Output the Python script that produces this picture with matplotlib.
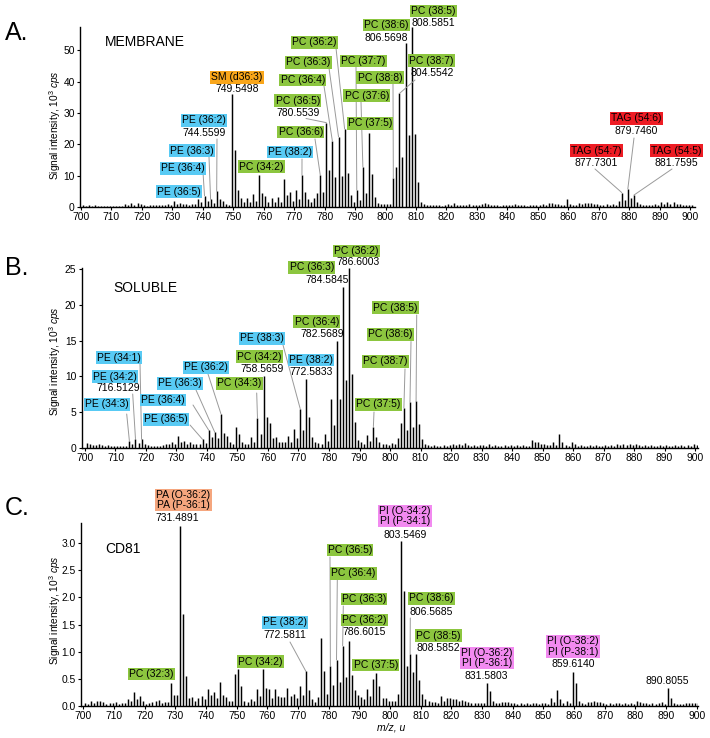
import numpy as np
import matplotlib
matplotlib.use('Agg')
import matplotlib.pyplot as plt

plt.rcParams['font.family'] = ['Liberation Sans', 'DejaVu Sans']
plt.rcParams['mathtext.fontset'] = 'custom'
plt.rcParams['mathtext.rm'] = 'Liberation Sans'
plt.rcParams['mathtext.it'] = 'Liberation Sans:italic'

W, H = 710, 738

# ---------------- data ----------------
nominal_mz = np.arange(700, 901)      # nominal masses 700..900
mass_defect = 0.55

int_membrane = [
    0.6, 0.4, 0.5, 0.4, 0.5, 0.4, 0.3, 0.4, 0.3, 0.4,
    0.3, 0.3, 0.4, 0.3, 1.0, 0.6, 1.2, 0.7, 1.2, 0.8,
    0.5, 0.4, 0.6, 0.5, 0.5, 0.6, 0.7, 0.5, 1.0, 0.7,
    2.0, 0.9, 1.2, 0.8, 1.1, 0.7, 1.1, 0.8, 2.4, 1.6,
    3.6, 1.8, 2.4, 1.4, 5.0, 2.4, 1.8, 1.0, 0.7, 36.0,
    18.3, 5.4, 3.0, 1.5, 2.8, 1.5, 4.2, 2.0, 10.3, 4.5,
    3.6, 1.6, 3.0, 1.5, 3.2, 1.5, 8.8, 3.8, 4.8, 2.0,
    5.5, 2.4, 10.2, 4.8, 2.5, 1.6, 3.0, 4.5, 10.2, 4.8,
    26.9, 11.8, 20.9, 9.6, 22.4, 9.9, 24.9, 10.9, 3.7, 1.7,
    5.4, 2.1, 12.8, 4.6, 23.6, 10.4, 3.2, 1.2, 0.8, 1.0,
    0.8, 1.0, 9.1, 12.6, 36.2, 16.0, 52.3, 22.9, 57.3, 23.2,
    8.1, 1.5, 0.8, 0.6, 0.5, 0.7, 0.5, 0.6, 0.4, 0.7,
    1.0, 0.6, 1.2, 0.7, 0.5, 0.6, 0.5, 1.0, 0.6, 0.5,
    0.7, 0.8, 1.3, 0.8, 0.6, 0.5, 0.6, 0.4, 0.5, 0.6,
    0.5, 0.6, 0.9, 0.5, 0.6, 0.5, 0.4, 0.6, 0.5, 0.6,
    0.7, 1.1, 0.6, 1.4, 1.2, 0.8, 0.9, 0.6, 0.7, 2.5,
    0.8, 0.6, 0.7, 1.2, 0.8, 1.4, 1.4, 1.3, 0.9, 1.0,
    0.7, 0.6, 0.8, 0.6, 1.0, 0.7, 1.9, 4.6, 2.2, 5.8,
    2.8, 3.8, 1.5, 0.9, 0.6, 0.7, 0.5, 0.6, 0.9, 0.6,
    1.5, 1.0, 1.6, 1.0, 1.5, 1.0, 0.8, 0.6, 0.7, 0.7,
    0.6,
]

int_soluble = [
    0.7, 0.5, 0.4, 0.4, 0.5, 0.4, 0.3, 0.4, 0.3, 0.3,
    0.3, 0.3, 0.3, 0.3, 1.0, 0.5, 1.3, 0.7, 1.2, 0.6,
    0.4, 0.3, 0.3, 0.3, 0.3, 0.4, 0.5, 0.6, 0.8, 0.6,
    1.7, 0.8, 1.0, 0.6, 0.8, 0.5, 0.6, 0.5, 1.2, 0.7,
    2.5, 1.6, 2.2, 1.4, 4.8, 2.1, 1.7, 0.8, 0.5, 2.9,
    2.0, 0.8, 0.5, 0.6, 1.5, 0.8, 4.2, 1.9, 10.0, 4.3,
    3.5, 1.4, 1.6, 0.8, 0.8, 0.8, 1.7, 0.9, 2.7, 1.4,
    5.5, 2.5, 9.7, 4.3, 1.6, 0.8, 0.7, 0.6, 2.0, 1.0,
    6.8, 3.2, 14.9, 6.8, 22.5, 9.5, 25.1, 10.4, 3.7, 1.1,
    0.9, 0.5, 1.8, 1.0, 3.0, 1.6, 0.9, 0.5, 0.6, 0.4,
    0.7, 0.5, 1.4, 3.5, 5.6, 2.5, 6.4, 3.0, 6.5, 3.3,
    1.2, 0.6, 0.4, 0.3, 0.4, 0.3, 0.3, 0.4, 0.3, 0.4,
    0.6, 0.4, 0.6, 0.4, 0.7, 0.4, 0.3, 0.4, 0.3, 0.4,
    0.4, 0.3, 0.5, 0.3, 0.4, 0.3, 0.3, 0.4, 0.3, 0.4,
    0.3, 0.4, 0.3, 0.4, 0.3, 0.3, 1.1, 0.9, 0.8, 0.6,
    0.5, 0.4, 0.4, 0.8, 0.4, 1.9, 0.9, 0.4, 0.3, 0.9,
    0.5, 0.3, 0.4, 0.3, 0.3, 0.4, 0.3, 0.4, 0.3, 0.3,
    0.4, 0.3, 0.4, 0.3, 0.5, 0.4, 0.6, 0.4, 0.5, 0.4,
    0.5, 0.4, 0.3, 0.4, 0.3, 0.4, 0.3, 0.3, 0.4, 0.3,
    0.4, 0.3, 0.3, 0.4, 0.3, 0.4, 0.3, 0.4, 0.3, 0.5,
    0.4,
]

int_cd81 = [
    0.06, 0.04, 0.10, 0.06, 0.10, 0.10, 0.07, 0.04, 0.06, 0.05,
    0.07, 0.03, 0.06, 0.06, 0.13, 0.09, 0.25, 0.12, 0.19, 0.10,
    0.04, 0.06, 0.08, 0.10, 0.11, 0.06, 0.08, 0.07, 0.42, 0.20,
    0.20, 3.32, 1.70, 0.55, 0.15, 0.16, 0.10, 0.14, 0.18, 0.12,
    0.32, 0.20, 0.26, 0.15, 0.44, 0.20, 0.17, 0.10, 0.10, 0.59,
    0.68, 0.36, 0.10, 0.08, 0.13, 0.10, 0.32, 0.18, 0.69, 0.33,
    0.32, 0.15, 0.32, 0.18, 0.17, 0.17, 0.33, 0.18, 0.22, 0.15,
    0.37, 0.20, 0.64, 0.30, 0.12, 0.08, 0.17, 1.25, 0.65, 0.22,
    0.74, 0.39, 0.85, 0.45, 1.11, 0.53, 1.20, 0.57, 0.30, 0.20,
    0.17, 0.12, 0.31, 0.18, 0.50, 0.60, 0.36, 0.15, 0.14, 0.10,
    0.10, 0.10, 0.22, 3.04, 2.12, 0.74, 0.96, 0.62, 0.95, 0.47,
    0.22, 0.12, 0.10, 0.08, 0.07, 0.06, 0.18, 0.10, 0.14, 0.14,
    0.13, 0.12, 0.10, 0.11, 0.09, 0.07, 0.06, 0.05, 0.05, 0.06,
    0.05, 0.42, 0.28, 0.10, 0.05, 0.06, 0.07, 0.08, 0.08, 0.06,
    0.05, 0.04, 0.05, 0.04, 0.05, 0.04, 0.05, 0.05, 0.04, 0.05,
    0.05, 0.04, 0.15, 0.08, 0.29, 0.12, 0.06, 0.10, 0.06, 0.63,
    0.42, 0.10, 0.05, 0.04, 0.07, 0.08, 0.10, 0.07, 0.08, 0.05,
    0.04, 0.05, 0.04, 0.05, 0.05, 0.04, 0.05, 0.04, 0.05, 0.04,
    0.10, 0.08, 0.06, 0.05, 0.04, 0.05, 0.04, 0.05, 0.07, 0.04,
    0.33, 0.15, 0.05, 0.04, 0.03, 0.04, 0.05, 0.06, 0.05, 0.06,
    0.05,
]

panel_titles = ['MEMBRANE', 'SOLUBLE', 'CD81']
panel_letters = ['A.', 'B.', 'C.']
x_ticks = list(range(700, 901, 10))
y_ticks_a = [0, 10, 20, 30, 40, 50]
y_ticks_b = [0, 5, 10, 15, 20, 25]
y_ticks_c = [0, 0.5, 1.0, 1.5, 2.0, 2.5, 3.0]

CLASS_COLORS = {'PE': '#58CAF4', 'PC': '#8CC63F', 'SM': '#F9A61A',
                'TAG': '#EE1C24', 'PA': '#F5A67E', 'PI': '#F28AF0'}

# annotations: (label, class, mass text, label centre px, mass text centre px,
#               leader start px, nominal mass of peak)
ann_a = [
    ('SM (d36:3)', 'SM', '749.5498', (236.7, 77.5), (236.7, 89.5), None, 749),
    ('PE (36:2)', 'PE', '744.5599', (204, 120.3), (204, 133), (217, 139), 744),
    ('PE (36:3)', 'PE', None, (191.7, 150.7), None, (209, 157), 742),
    ('PE (36:4)', 'PE', None, (183.3, 168.3), None, (203, 172), 740),
    ('PE (36:5)', 'PE', None, (179, 191.7), None, None, 738),
    ('PC (34:2)', 'PC', None, (261.3, 166.7), None, None, 758),
    ('PE (38:2)', 'PE', None, (290, 152), None, (302, 159), 772),
    ('PC (36:6)', 'PC', None, (300.7, 132), None, (315, 139), 778),
    ('PC (36:5)', 'PC', '780.5539', (297.7, 100.7), (297.7, 112.7), (306, 118.5), 780),
    ('PC (36:4)', 'PC', None, (302.7, 80), None, (324, 86), 782),
    ('PC (36:3)', 'PC', None, (308.3, 62.3), None, (329, 68), 784),
    ('PC (36:2)', 'PC', None, (314.3, 42.3), None, (336, 48), 786),
    ('PC (37:7)', 'PC', None, (363.3, 61), None, (356, 67), 790),
    ('PC (38:8)', 'PC', None, (380, 77.7), None, (393, 84), 802),
    ('PC (37:6)', 'PC', None, (366.7, 95.7), None, (361, 102), 792),
    ('PC (37:5)', 'PC', None, (370, 123.3), None, None, 794),
    ('PC (38:7)', 'PC', '804.5542', (431.7, 60.7), (431.7, 73.3), (415, 80), 804),
    ('PC (38:6)', 'PC', '806.5698', (386.7, 25), (386.7, 37.7), None, 806),
    ('PC (38:5)', 'PC', '808.5851', (433.3, 11), (433.3, 23.3), None, 808),
    ('TAG (54:6)', 'TAG', '879.7460', (636, 118.3), (636, 131), (634, 138), 879),
    ('TAG (54:7)', 'TAG', '877.7301', (596, 150.7), (596, 162.7), (595, 169), 877),
    ('TAG (54:5)', 'TAG', '881.7595', (676, 150.7), (676, 162.7), (672, 169), 881),
]

ann_b = [
    ('PE (34:3)', 'PE', None, (107.3, 404.3), None, (126.7, 414), 714),
    ('PE (34:2)', 'PE', '716.5129', (115, 376.7), (118, 388.3), (132.7, 394), 716),
    ('PE (34:1)', 'PE', None, (119.3, 357.7), None, (140, 363), 718),
    ('PE (36:5)', 'PE', None, (165.7, 419.3), None, (190, 425), 738),
    ('PE (36:4)', 'PE', None, (163.3, 400), None, (193, 405), 740),
    ('PE (36:3)', 'PE', None, (180, 383.3), None, (196, 390), 742),
    ('PE (36:2)', 'PE', None, (205.7, 367.3), None, (208, 374), 744),
    ('PC (34:3)', 'PC', None, (239.3, 383.3), None, (256.7, 393), 756),
    ('PC (34:2)', 'PC', '758.5659', (259, 356.7), (261.7, 369.3), None, 758),
    ('PE (38:3)', 'PE', None, (261.7, 338.3), None, (283, 345), 770),
    ('PE (38:2)', 'PE', '772.5833', (311, 360), (311, 371.7), None, 772),
    ('PC (36:4)', 'PC', '782.5689', (316.7, 321.7), (322, 334), None, 782),
    ('PC (36:3)', 'PC', '784.5845', (311.7, 267.3), (327, 280), None, 784),
    ('PC (36:2)', 'PC', '786.6003', (356.7, 251), (358, 262.3), None, 786),
    ('PC (38:5)', 'PC', None, (395.7, 307.7), None, (416.7, 315), 808),
    ('PC (38:6)', 'PC', None, (390.7, 334.3), None, (411, 341.5), 806),
    ('PC (38:7)', 'PC', None, (385, 361.3), None, (405, 369), 804),
    ('PC (37:5)', 'PC', None, (378.3, 404.3), None, (374, 412), 794),
]

ann_c = [
    ('PA (O-36:2)\nPA (P-36:1)', 'PA', '731.4891', (183.3, 500), (177.7, 517.7), None, 731),
    ('PC (32:3)', 'PC', None, (151.7, 674), None, None, 728),
    ('PC (34:2)', 'PC', None, (260.7, 661.7), None, None, 758),
    ('PE (38:2)', 'PE', '772.5811', (285, 622.3), (285, 635), (290, 642), 772),
    ('PC (36:5)', 'PC', None, (350, 550), None, (330, 557), 780),
    ('PC (36:4)', 'PC', None, (353.3, 573.3), None, (337.3, 580), 782),
    ('PC (36:3)', 'PC', None, (364, 599), None, (343.3, 606), 784),
    ('PC (36:2)', 'PC', '786.6015', (364, 620), (364, 631.7), None, 786),
    ('PC (37:5)', 'PC', None, (375.7, 665), None, None, 795),
    ('PI (O-34:2)\nPI (P-34:1)', 'PI', '803.5469', (405, 516), (405, 535), None, 803),
    ('PC (38:6)', 'PC', '806.5685', (431, 598.3), (431, 611.7), (410.3, 618), 806),
    ('PC (38:5)', 'PC', '808.5852', (438.3, 635.7), (438.3, 648.3), None, 808),
    ('PI (O-36:2)\nPI (P-36:1)', 'PI', '831.5803', (486.7, 658), (486.7, 675.7), None, 831),
    ('PI (O-38:2)\nPI (P-38:1)', 'PI', '859.6140', (573.3, 646.5), (573.3, 664), None, 859),
    (None, None, '890.8055', None, (667.3, 681), None, 890),
]

# ---------------- layout (pixels from top-left) ----------------
# (left, right, top, bottom, xlim, ylim_top, letter_y, title_x, title_y, ylabel_y)
layout = [
    (80, 695, 27, 207, (699.67, 901.6), 57.4, 33, 105, 41.7, 125),
    (81.7, 698, 268, 448, (698.92, 900.98), 25.15, 268.5, 113.3, 288.3, 361),
    (81, 698, 523, 706, (699.25, 900.4), 3.37, 508, 105, 549, 610),
]

fig = plt.figure(figsize=(W / 100, H / 100), dpi=100)


def fx(px):
    return px / W


def fy(py):
    return 1 - py / H


panels = [(int_membrane, ann_a, y_ticks_a, '{:.0f}'),
          (int_soluble, ann_b, y_ticks_b, '{:.0f}'),
          (int_cd81, ann_c, y_ticks_c, '{:.1f}')]

for i, ((ints, anns, yt, yfmt), lay) in enumerate(zip(panels, layout)):
    left, right, top, bottom, xlim, ytop, let_y, tx, ty, yl_y = lay
    ax = fig.add_axes([fx(left), fy(bottom), (right - left) / W, (bottom - top) / H])
    ints = np.asarray(ints)
    ax.vlines(nominal_mz + mass_defect, 0, ints, colors='black', lw=1.05)
    ax.set_xlim(*xlim)
    ax.set_ylim(0, ytop)
    ax.set_xticks(x_ticks)
    ax.set_yticks(yt)
    ax.set_yticklabels([yfmt.format(v) for v in yt])
    for s in ['top', 'right']:
        ax.spines[s].set_visible(False)
    for s in ['left', 'bottom']:
        ax.spines[s].set_linewidth(1.0)
    ax.tick_params(axis='both', direction='out', length=2, width=0.8,
                   labelsize=7.4, pad=1.8)

    fig.text(fx(5), fy(let_y), panel_letters[i], fontsize=18, ha='left', va='center')
    fig.text(fx(tx), fy(ty), panel_titles[i], fontsize=10, ha='left', va='center')
    fig.text(fx(55), fy(yl_y), 'Signal intensity, 10$^3$ $\\mathit{cps}$',
             rotation=90, fontsize=7.3, ha='center', va='center')

    for lab, cls, mtxt, bpx, mpx, lpx, pk in anns:
        if lpx is not None:
            ax.annotate('', xy=(pk + mass_defect, ints[pk - 700]), xycoords='data',
                        xytext=(fx(lpx[0]), fy(lpx[1])), textcoords='figure fraction',
                        arrowprops=dict(arrowstyle='-', color='#9a9a9a', lw=0.7,
                                        shrinkA=0, shrinkB=0),
                        annotation_clip=False)
        if lab is not None:
            fig.text(fx(bpx[0]), fy(bpx[1]), lab, ha='center', va='center',
                     fontsize=7.5, linespacing=1.05,
                     bbox=dict(boxstyle='square,pad=0.12', fc=CLASS_COLORS[cls], ec='none'))
        if mtxt is not None:
            fig.text(fx(mpx[0]), fy(mpx[1]), mtxt, ha='center', va='center', fontsize=7.5)

fig.text(fx(391), fy(727.7), 'm/z, u', fontsize=7.5, style='italic', ha='center', va='center')

fig.savefig('out.png', dpi=100)
